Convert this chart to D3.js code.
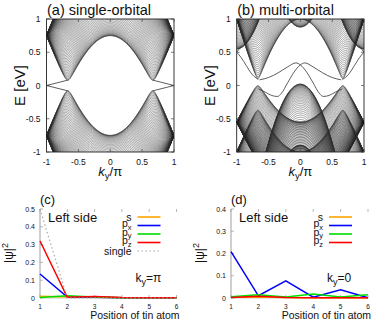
<!DOCTYPE html>
<html><head><meta charset="utf-8">
<script src="https://cdn.jsdelivr.net/npm/d3@7"></script>
<style>body{margin:0;background:#fff}text{font-family:"Liberation Sans",Arial,Helvetica,sans-serif;fill:#111}</style>
</head><body><svg id="c" width="382" height="325" xmlns="http://www.w3.org/2000/svg"></svg>
<script>
// ---------------- data ----------------
const kyTicks = [-1, -0.5, 0, 0.5, 1];
const kyTickLabels = ["-1", "-0.5", "0", "0.5", "1"];
const eTicks = [-1, -0.5, 0, 0.5, 1];
const eTickLabels = ["-1", "-0.5", "0", "0.5", "1"];

// (a) single-orbital ribbon (honeycomb, zigzag edges): parameters (eV)
const singleOnsite = [0.0];
const singleHopping = [0.75];
const singleSOC = [0.015];
const nTransverse = [90];

// (b) multi-orbital: band families
// kind K = Dirac-like at K, G = extremum at Gamma, P = extremum at ky = pi
const multiKind    = ["K", "K", "K", "G", "G", "G", "P"];
const multiSign    = [1, -1, -1, -1, 1, -1, 1];
const multiOnsite  = [0.05, 0.05, -0.32, 0.02, 0.88, -0.90, 0.55];
const multiHopping = [0.95, 0.60, 0.68, 1.5, 1.5, 1.5, 1.5];
const multiSOC     = [0.01, 0.01, 0.01, 0, 0, 0, 0];

// edge states (ky/pi, E)
const edgeA_ky = [[-0.67, -1], [-0.67, -1], [0.67, 1], [0.67, 1]];
const edgeA_E  = [[0.08, 0], [-0.08, 0], [0.08, 0], [-0.08, 0]];

const edgeB_ky = [
  [-0.64, -0.5, -0.35, -0.2, -0.07, 0, 0.1, 0.2, 0.3, 0.36, 0.45, 0.55, 0.66],
  [0.64, 0.5, 0.35, 0.2, 0.07, 0, -0.1, -0.2, -0.3, -0.36, -0.45, -0.55, -0.66],
  [-1, -0.93, -0.85, -0.76, -0.66],
  [1, 0.93, 0.85, 0.76, 0.66],
  [-1, -0.96, -0.92],
  [1, 0.96, 0.92]
];
const edgeB_E = [
  [0.085, 0.12, 0.19, 0.28, 0.34, 0.31, 0.2, 0.04, -0.12, -0.165, -0.15, -0.1, -0.05],
  [0.085, 0.12, 0.19, 0.28, 0.34, 0.31, 0.2, 0.04, -0.12, -0.165, -0.15, -0.1, -0.05],
  [0.5, 0.42, 0.3, 0.17, 0.09],
  [0.5, 0.42, 0.3, 0.17, 0.09],
  [0.5, 0.55, 0.6],
  [0.5, 0.55, 0.6]
];

// (c),(d) weights per site
const positions = [1, 2, 3, 4, 5, 6];
const orbitalNames = ["s", "px", "py", "pz"];
const orbitalColors = ["#ffa500", "#0000ff", "#00dd00", "#ff0000"];
const c_s      = [0.010, 0.006, 0.004, 0.002, 0.001, 0.001];
const c_px     = [0.135, 0.005, 0.004, 0.002, 0.001, 0.001];
const c_py     = [0.003, 0.013, 0.006, 0.002, 0.001, 0.001];
const c_pz     = [0.320, 0.004, 0.009, 0.003, 0.002, 0.001];
const c_single = [0.500, 0.000, 0.000, 0.000, 0.000, 0.000];
const d_s      = [0.003, 0.005, 0.002, 0.001, 0.001, 0.001];
const d_px     = [0.208, 0.010, 0.077, 0.004, 0.037, 0.001];
const d_py     = [0.006, 0.015, 0.004, 0.018, 0.004, 0.015];
const d_pz     = [0.002, 0.008, 0.002, 0.001, 0.001, 0.001];
const cTicks = [0, 0.1, 0.2, 0.3, 0.4, 0.5];
const dTicks = [0, 0.1, 0.2, 0.3, 0.4];

// ---------------- drawing ----------------
const svg = d3.select("#c");
const defs = svg.append("defs");
const kyGrid = d3.range(0, 481).map(i => -1 + i / 240);

function phiAbs(k, q) { const c = Math.cos(k / 2); return Math.sqrt(Math.max(0, 1 + 4 * c * c + 4 * c * Math.cos(q))); }
function dz(k, q, lam) { return 2 * lam * (Math.sin(k) - 2 * Math.sin(k / 2) * Math.cos(q)); }
function bandE(kind, sign, e0, t, lam, kyn, q) {
  const k = kyn * Math.PI;
  if (kind === "K") { const p = phiAbs(k, q); return e0 + sign * Math.sqrt(t * t * p * p + Math.pow(dz(k, q, lam), 2)); }
  if (kind === "P") return e0 + sign * t * (3 - phiAbs(k + Math.PI, q));
  return e0 + sign * t * (3 - phiAbs(k, q));
}

function bandPanel(id, L, R, T, B, families, edgesKy, edgesE, title, yLabX) {
  const x = d3.scaleLinear().domain([-1, 1]).range([L, R]);
  const y = d3.scaleLinear().domain([-1, 1]).range([B, T]);
  defs.append("clipPath").attr("id", "clip" + id).append("rect")
    .attr("x", L).attr("y", T).attr("width", R - L).attr("height", B - T);
  const g = svg.append("g");
  const plot = g.append("g").attr("clip-path", `url(#clip${id})`);
  const line = d3.line().x(d => x(d[0])).y(d => y(d[1]));
  const N = nTransverse[0];
  families.forEach(f => {
    for (let j = 0; j <= N; j++) {
      const q = Math.PI * j / N;
      const pts = kyGrid.map(k => [k, bandE(f.kind, f.sign, f.e0, f.t, f.lam, k, q)]);
      plot.append("path").attr("d", line(pts)).attr("fill", "none")
        .attr("stroke", "#333").attr("stroke-width", 0.45);
    }
  });
  const eline = d3.line().x(d => x(d[0])).y(d => y(d[1])).curve(d3.curveMonotoneX);
  edgesKy.forEach((ks, i) => {
    const pts = ks.map((k, j) => [k, edgesE[i][j]]).sort((a, b) => a[0] - b[0]);
    plot.append("path").attr("d", eline(pts)).attr("fill", "none")
      .attr("stroke", "#333").attr("stroke-width", 0.8);
  });
  g.append("rect").attr("x", L).attr("y", T).attr("width", R - L).attr("height", B - T)
    .attr("fill", "none").attr("stroke", "#222").attr("stroke-width", 0.9);
  kyTicks.forEach(v => {
    g.append("line").attr("x1", x(v)).attr("x2", x(v)).attr("y1", B).attr("y2", B - 3).attr("stroke", "#444").attr("stroke-width", 0.7);
    g.append("line").attr("x1", x(v)).attr("x2", x(v)).attr("y1", T).attr("y2", T + 3).attr("stroke", "#444").attr("stroke-width", 0.7);
  });
  eTicks.forEach(v => {
    g.append("line").attr("x1", L).attr("x2", L + 3).attr("y1", y(v)).attr("y2", y(v)).attr("stroke", "#444").attr("stroke-width", 0.7);
    g.append("line").attr("x1", R).attr("x2", R - 3).attr("y1", y(v)).attr("y2", y(v)).attr("stroke", "#444").attr("stroke-width", 0.7);
  });
  kyTicks.forEach((v, i) => g.append("text").attr("x", x(v)).attr("y", B + 13)
    .attr("text-anchor", "middle").attr("font-size", 8.5).text(kyTickLabels[i]));
  eTicks.forEach((v, i) => g.append("text").attr("x", L - 6).attr("y", y(v) + 3)
    .attr("text-anchor", "end").attr("font-size", 8.5).text(eTickLabels[i]));
  g.append("text").attr("x", L + 0.5).attr("y", 15).attr("font-size", 14.5).text(title);
  g.append("text").attr("transform", `translate(${yLabX},${(T + B) / 2}) rotate(-90)`)
    .attr("text-anchor", "middle").attr("font-size", 15).text("E [eV]");
  const xl = g.append("text").attr("x", (L + R) / 2).attr("y", 176).attr("text-anchor", "middle").attr("font-size", 13);
  xl.append("tspan").attr("font-style", "italic").text("k");
  xl.append("tspan").attr("font-size", 9.5).attr("dy", 3).text("y");
  xl.append("tspan").attr("dy", -3).text("/π");
}

bandPanel("a", 46.5, 174, 19, 152,
  [{kind: "K", sign: 1, e0: singleOnsite[0], t: singleHopping[0], lam: singleSOC[0]},
   {kind: "K", sign: -1, e0: singleOnsite[0], t: singleHopping[0], lam: singleSOC[0]}],
  edgeA_ky, edgeA_E, "(a) single-orbital", 25);

bandPanel("b", 236.7, 364, 19, 152,
  multiKind.map((k, i) => ({kind: k, sign: multiSign[i], e0: multiOnsite[i], t: multiHopping[i], lam: multiSOC[i]})),
  edgeB_ky, edgeB_E, "(b) multi-orbital", 215);

function wavePanel(L, R, T, B, yMax, ticks, series, label, kyText, showSingle) {
  const x = d3.scaleLinear().domain([1, 6]).range([L, R]);
  const y = d3.scaleLinear().domain([0, yMax]).range([B, T]);
  const g = svg.append("g");
  g.append("line").attr("x1", L).attr("x2", L).attr("y1", T).attr("y2", B).attr("stroke", "#bbb").attr("stroke-width", 1.4);
  g.append("line").attr("x1", L).attr("x2", R).attr("y1", B).attr("y2", B).attr("stroke", "#ccc").attr("stroke-width", 1);
  positions.forEach(p => {
    g.append("line").attr("x1", x(p)).attr("x2", x(p)).attr("y1", T).attr("y2", T + 3).attr("stroke", "#999").attr("stroke-width", 0.7);
    g.append("line").attr("x1", x(p)).attr("x2", x(p)).attr("y1", B).attr("y2", B - 3).attr("stroke", "#999").attr("stroke-width", 0.7);
    g.append("text").attr("x", x(p)).attr("y", B + 11).attr("text-anchor", "middle").attr("font-size", 6.5).attr("fill", "#333").text(p);
  });
  ticks.forEach(v => {
    g.append("line").attr("x1", L).attr("x2", L + 3).attr("y1", y(v)).attr("y2", y(v)).attr("stroke", "#999").attr("stroke-width", 0.7);
    g.append("text").attr("x", L - 5).attr("y", y(v) + 2.5).attr("text-anchor", "end").attr("font-size", 7).attr("fill", "#333").text(v);
  });
  const line = d3.line().x((d, i) => x(positions[i])).y(d => y(d));
  series.forEach((s, i) => g.append("path").attr("d", line(s)).attr("fill", "none")
    .attr("stroke", orbitalColors[i]).attr("stroke-width", 1.5));
  if (showSingle) g.append("path").attr("d", line(showSingle)).attr("fill", "none")
    .attr("stroke", "#aaa").attr("stroke-width", 1.2).attr("stroke-dasharray", "1.5,2.5");
  g.append("text").attr("x", L).attr("y", 204).attr("font-size", 13).text(label);
  g.append("text").attr("x", L + 8).attr("y", 222).attr("font-size", 13).text("Left side");
  const kt = g.append("text").attr("x", R - 41).attr("y", 282).attr("font-size", 12);
  kt.append("tspan").text("k");
  kt.append("tspan").attr("font-size", 9).attr("dy", 3).text("y");
  kt.append("tspan").attr("dy", -3).text(kyText);
  g.append("text").attr("x", R + 3).attr("y", 319).attr("text-anchor", "end").attr("font-size", 10.5).text("Position of tin atom");
  const lx = R - 39, rowY = [217, 225.5, 234, 242.5, 251];
  const entries = orbitalNames.map((n, i) => ({n, c: orbitalColors[i], dash: null}));
  if (showSingle) entries.push({n: "single", c: "#aaa", dash: "1.5,2.5"});
  entries.forEach((e, i) => {
    const t = g.append("text").attr("x", lx - 6).attr("y", rowY[i] + 3.5).attr("text-anchor", "end").attr("font-size", 10.5);
    if (e.n.length === 2) {
      t.append("tspan").attr("dy", -2).text("p");
      t.append("tspan").attr("font-size", 7.5).attr("dy", 2.5).text(e.n[1]);
    } else t.text(e.n);
    g.append("line").attr("x1", lx).attr("x2", lx + 23).attr("y1", rowY[i]).attr("y2", rowY[i])
      .attr("stroke", e.c).attr("stroke-width", e.dash ? 1.2 : 1.6).attr("stroke-dasharray", e.dash);
  });
  return g;
}

wavePanel(40, 176.5, 209, 298, 0.5, cTicks, [c_s, c_px, c_py, c_pz], "(c)", "=π", c_single);
wavePanel(231, 368, 209, 298, 0.4, dTicks, [d_s, d_px, d_py, d_pz], "(d)", "=0", null);

[[13, 253], [204, 253]].forEach(p => {
  const t = svg.append("text").attr("transform", `translate(${p[0]},${p[1]}) rotate(-90)`).attr("text-anchor", "middle").attr("font-size", 12);
  t.append("tspan").text("|ψ|");
  t.append("tspan").attr("font-size", 9).attr("dy", -5).text("2");
});
</script></body></html>
